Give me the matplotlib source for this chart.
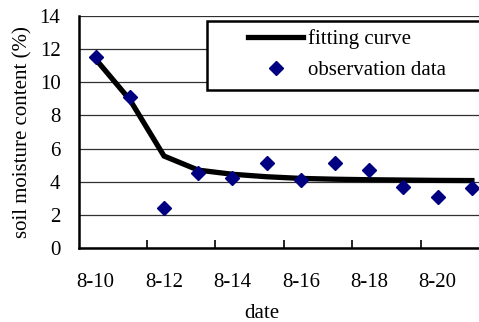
import matplotlib
matplotlib.use("Agg")
import matplotlib.pyplot as plt
from matplotlib.lines import Line2D
from matplotlib.patches import Rectangle

# data
dates = ["8-10", "8-11", "8-12", "8-13", "8-14", "8-15",
         "8-16", "8-17", "8-18", "8-19", "8-20", "8-21"]
fitting = [11.4, 8.95, 5.55, 4.7, 4.45, 4.3, 4.2, 4.15, 4.12, 4.1, 4.08, 4.07]
observed = [11.5, 9.1, 2.4, 4.5, 4.2, 5.1, 4.1, 5.1, 4.7, 3.7, 3.1, 3.6]
yticks = [0, 2, 4, 6, 8, 10, 12, 14]

plt.rcParams['font.family'] = ['Liberation Serif', 'DejaVu Serif']
fs = 15

W, H = 479, 322
fig = plt.figure(figsize=(W / 100, H / 100), dpi=100)
ax = fig.add_axes([78.5 / W, 1 - 248 / H, (489 - 78.5) / W, 232 / H])

x = list(range(len(dates)))
ax.plot(x, fitting, color="black", lw=3.8, solid_joinstyle="miter", zorder=3)
ax.plot(x, observed, ls="none", marker="D", ms=7.5, color="#000080", zorder=4)

ax.set_xlim(-0.5, len(dates) - 0.5)
ax.set_ylim(0, 14)
ax.set_yticks(yticks)
ax.set_xticks(x[::2])
ax.set_xticklabels(dates[::2])
ax.set_xticks([i + 0.5 for i in x[1::2]], minor=True)
ax.tick_params(axis="x", which="major", length=0, pad=18, labelsize=fs)
ax.tick_params(axis="x", which="minor", direction="in", length=6, width=1.2)
ax.tick_params(axis="y", length=0, pad=13, labelsize=fs)

ax.grid(axis="y", color="#303030", lw=0.9)
ax.set_axisbelow(True)
for s in ("top", "right"):
    ax.spines[s].set_visible(False)
for s in ("left", "bottom"):
    ax.spines[s].set_linewidth(1.8)

ax.set_ylabel("soil moisture content (%)", fontsize=fs, labelpad=5)
fig.text(262 / W, 1 - 313 / H, "date", ha="center", va="center", fontsize=fs)

# legend frame (runs off the right edge like the reference)
fig.patches.append(Rectangle((207 / W, 1 - 90 / H), 300 / W, 69 / H,
                             transform=fig.transFigure, facecolor="white",
                             edgecolor="black", lw=1.8, zorder=5))
handles = [Line2D([], [], color="black", lw=3.8),
           Line2D([], [], ls="none", marker="D", ms=7.5, color="#000080")]
leg = fig.legend(handles, ["fitting curve", "observation data"],
                 loc="upper left", bbox_to_anchor=(248 / W, 1 - 29 / H),
                 fontsize=fs, frameon=False, borderpad=0, borderaxespad=0,
                 handlelength=2.65, handletextpad=0.25, labelspacing=0.56)
leg.set_zorder(6)

fig.savefig("out.png", dpi=100)
